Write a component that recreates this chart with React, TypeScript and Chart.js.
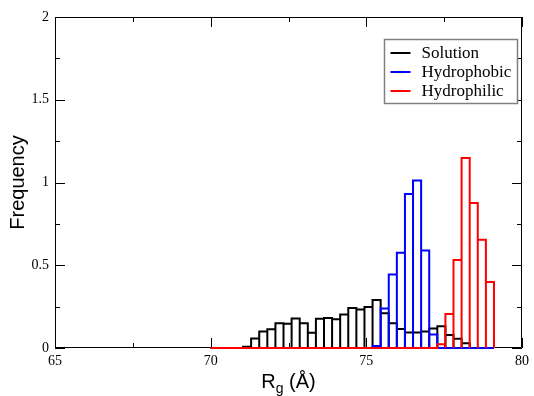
import React, { useEffect, useRef } from 'react';
import { Chart, registerables } from 'chart.js';

Chart.register(...registerables);

// Histogram bin edges (Å)
const BIN_EDGES = [
  70.0, 70.26, 70.52, 70.78, 71.04, 71.3, 71.56, 71.82, 72.08, 72.34, 72.6, 72.86,
  73.12, 73.38, 73.64, 73.9, 74.16, 74.42, 74.68, 74.94, 75.2, 75.46, 75.72, 75.98,
  76.24, 76.5, 76.76, 77.02, 77.28, 77.54, 77.8, 78.06, 78.32, 78.58, 78.84, 79.1,
];

const SERIES_LABELS = ['Solution', 'Hydrophobic', 'Hydrophilic'];
const SERIES_COLORS = ['#000000', '#0000ff', '#ff0000'];

const SOLUTION = [
  0, 0, 0, 0, 0.008, 0.057, 0.1, 0.114, 0.15, 0.146, 0.178, 0.149,
  0.092, 0.176, 0.181, 0.173, 0.202, 0.241, 0.232, 0.247, 0.29, 0.21, 0.15, 0.115,
  0.094, 0.094, 0.1, 0.118, 0.132, 0.078, 0.056, 0.028, 0, 0, 0,
];

const HYDROPHOBIC = [
  0, 0, 0, 0, 0, 0, 0, 0, 0, 0, 0, 0,
  0, 0, 0, 0, 0, 0, 0, 0, 0.012, 0.238, 0.444, 0.576,
  0.93, 1.012, 0.589, 0.082, 0, 0, 0, 0, 0, 0, 0,
];

const HYDROPHILIC = [
  0, 0, 0, 0, 0, 0, 0, 0, 0, 0, 0, 0,
  0, 0, 0, 0, 0, 0, 0, 0, 0, 0, 0, 0,
  0, 0, 0, 0, 0.022, 0.205, 0.531, 1.148, 0.876, 0.654, 0.399,
];

const X_TICK_VALUES = [65, 67.5, 70, 72.5, 75, 77.5, 80];
const Y_TICK_VALUES = [0, 0.25, 0.5, 0.75, 1, 1.25, 1.5, 1.75, 2];

function outline(values: number[]) {
  const pts: { x: number; y: number }[] = [];
  values.forEach((v, k) => {
    const l = BIN_EDGES[k];
    const r = BIN_EDGES[k + 1];
    pts.push({ x: l, y: 0 }, { x: l, y: v }, { x: r, y: v }, { x: r, y: 0 });
  });
  return pts;
}

const framePlugin = {
  id: 'frameTicks',
  beforeDatasetsDraw(chart: any) {
    const { ctx, chartArea: a, scales } = chart;
    const xs = scales.x;
    const ys = scales.y;
    ctx.save();
    ctx.strokeStyle = '#000000';
    ctx.lineWidth = 1;
    ctx.beginPath();
    ctx.rect(a.left + 0.5, a.top + 0.5, a.right - a.left - 1, a.bottom - a.top - 1);
    ctx.stroke();
    ctx.beginPath();
    X_TICK_VALUES.forEach((v) => {
      const len = v % 5 === 0 ? 10 : 5;
      const px = Math.round(xs.getPixelForValue(v)) + 0.5;
      ctx.moveTo(px, a.bottom);
      ctx.lineTo(px, a.bottom - len);
      ctx.moveTo(px, a.top);
      ctx.lineTo(px, a.top + len);
    });
    Y_TICK_VALUES.forEach((v) => {
      const len = Math.abs((v * 2) % 1) < 1e-9 ? 10 : 5;
      const py = Math.round(ys.getPixelForValue(v)) + 0.5;
      ctx.moveTo(a.left, py);
      ctx.lineTo(a.left + len, py);
      ctx.moveTo(a.right, py);
      ctx.lineTo(a.right - len, py);
    });
    ctx.stroke();
    ctx.restore();
  },
  afterDraw(chart: any) {
    const { ctx, chartArea: a } = chart;
    ctx.save();
    // Legend box
    const bx = 384.5;
    const by = 39.5;
    const bw = 133;
    const bh = 64;
    ctx.fillStyle = '#ffffff';
    ctx.fillRect(bx, by, bw, bh);
    ctx.strokeStyle = '#808080';
    ctx.lineWidth = 1.5;
    ctx.strokeRect(bx, by, bw, bh);
    ctx.font = '17px "Liberation Serif"';
    ctx.textBaseline = 'middle';
    ctx.textAlign = 'left';
    SERIES_LABELS.forEach((lab, i) => {
      const yy = by + 13.5 + i * 19;
      ctx.strokeStyle = SERIES_COLORS[i];
      ctx.lineWidth = 2;
      ctx.beginPath();
      ctx.moveTo(bx + 6, yy);
      ctx.lineTo(bx + 26, yy);
      ctx.stroke();
      ctx.fillStyle = '#000000';
      ctx.fillText(lab, bx + 37, yy + 0.5);
    });
    // X axis title: R_g (Å)
    const big = '20px "Liberation Sans"';
    const small = '14px "Liberation Sans"';
    ctx.font = big;
    const wR = ctx.measureText('R').width;
    const wRest = ctx.measureText(' (Å)').width;
    ctx.font = small;
    const wg = ctx.measureText('g').width;
    const total = wR + wg + wRest;
    let x0 = (a.left + a.right) / 2 - total / 2;
    const base = 388;
    ctx.fillStyle = '#000000';
    ctx.textBaseline = 'alphabetic';
    ctx.font = big;
    ctx.fillText('R', x0, base);
    x0 += wR;
    ctx.font = small;
    ctx.fillText('g', x0, base + 5);
    x0 += wg;
    ctx.font = big;
    ctx.fillText(' (Å)', x0, base);
    ctx.restore();
  },
};

export default function App() {
  const ref = useRef<HTMLCanvasElement | null>(null);

  useEffect(() => {
    if (!ref.current) return;
    const series = [SOLUTION, HYDROPHOBIC, HYDROPHILIC];
    const chart = new Chart(ref.current, {
      type: 'scatter',
      data: {
        datasets: series.map((vals, i) => ({
          label: SERIES_LABELS[i],
          data: outline(vals),
          showLine: true,
          borderColor: SERIES_COLORS[i],
          backgroundColor: SERIES_COLORS[i],
          borderWidth: 2,
          pointRadius: 0,
          tension: 0,
          fill: false,
          clip: false,
          order: 3 - i,
          borderJoinStyle: 'miter',
        })),
      },
      options: {
        responsive: false,
        animation: false,
        events: [],
        layout: { padding: { top: 17, right: 7, left: 0, bottom: 0 } },
        plugins: {
          legend: { display: false },
          tooltip: { enabled: false },
        },
        scales: {
          x: {
            type: 'linear',
            min: 65,
            max: 80,
            grid: { display: false, drawTicks: false },
            border: { display: false },
            ticks: {
              stepSize: 5,
              padding: 5,
              color: '#000000',
              font: { family: '"Liberation Serif"', size: 14 },
              maxRotation: 0,
              callback: (v: any) => String(v),
            },
            afterFit: (s: any) => {
              s.height = 48;
            },
          },
          y: {
            type: 'linear',
            min: 0,
            max: 2,
            grid: { display: false, drawTicks: false },
            border: { display: false },
            ticks: {
              stepSize: 0.5,
              padding: 6,
              color: '#000000',
              font: { family: '"Liberation Serif"', size: 14 },
              callback: (v: any) => String(v),
            },
            title: {
              display: true,
              text: 'Frequency',
              color: '#000000',
              font: { family: '"Liberation Sans"', size: 20 },
              padding: { top: 6, bottom: 0 },
            },
            afterFit: (s: any) => {
              s.width = 55;
            },
          },
        },
      },
      plugins: [framePlugin],
    } as any);
    return () => chart.destroy();
  }, []);

  return (
    <div style={{ position: 'fixed', left: 0, top: 0, width: 534, height: 396, background: '#ffffff' }}>
      <canvas ref={ref} width={534} height={396} style={{ width: 534, height: 396 }} />
    </div>
  );
}
